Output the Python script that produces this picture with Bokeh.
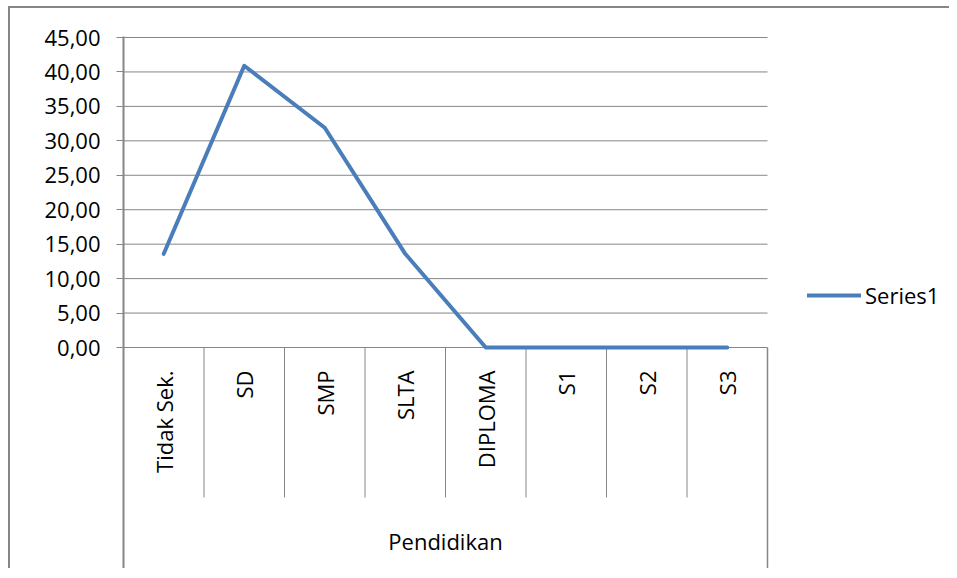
from bokeh.plotting import figure
from bokeh.models import Range1d, FixedTicker, ColumnDataSource
from bokeh.core.properties import value
from bokeh.embed import file_html
from bokeh.resources import INLINE

# ---- data ----
categories = ["Tidak Sek.", "SD", "SMP", "SLTA", "DIPLOMA", "S1", "S2", "S3"]
series1 = [13.6, 40.9, 31.9, 13.6, 0.0, 0.0, 0.0, 0.0]
series_name = "Series1"
group_label = "Pendidikan"
y_ticks = [0, 5, 10, 15, 20, 25, 30, 35, 40, 45]
y_tick_labels = ["0,00", "5,00", "10,00", "15,00", "20,00", "25,00",
                 "30,00", "35,00", "40,00", "45,00"]

# ---- layout / style ----
FONT = "Open Sans"
GREY = "#868686"
BLUE = "#4A7EBB"
W, H = 941, 562
LEFT, TOP = 113, 28
CAT_PX = 644 / 8            # pixels per category
PX = 310 / 45               # pixels per y unit
Y_TOP = 45 + 1 / PX
Y_BOTTOM = -(H - TOP - 1 - 310) / PX

n = len(categories)
xs = [i + 0.5 for i in range(n)]
X_END = (W - LEFT) / CAT_PX

p = figure(width=W, height=H, output_backend="svg", toolbar_location=None,
           x_range=Range1d(0, X_END), y_range=Range1d(Y_BOTTOM, Y_TOP),
           min_border_left=LEFT, min_border_right=0, min_border_top=TOP,
           min_border_bottom=0)
p.styles = {"border-top": "2px solid #868686", "border-left": "2px solid #868686",
            "margin-left": "8px", "margin-top": "6px"}
p.outline_line_color = None
p.background_fill_color = "white"
p.border_fill_color = "white"

# axes
p.xaxis.visible = False
p.yaxis.ticker = FixedTicker(ticks=y_ticks)
p.yaxis.major_label_overrides = {t: l for t, l in zip(y_ticks, y_tick_labels)}
p.yaxis.axis_line_color = GREY
p.yaxis.axis_line_width = 2
p.yaxis.major_tick_line_color = GREY
p.yaxis.major_tick_in = 0
p.yaxis.major_tick_out = 7
p.yaxis.minor_tick_line_color = None
p.yaxis.major_label_text_font = FONT
p.yaxis.major_label_text_font_size = "22px"
p.yaxis.major_label_text_color = "black"
p.yaxis.major_label_standoff = 16
p.grid.visible = False

# horizontal gridlines limited to the category span
grid_src = ColumnDataSource(dict(y=y_ticks, x0=[0] * len(y_ticks), x1=[n] * len(y_ticks)))
p.segment(x0="x0", y0="y", x1="x1", y1="y", source=grid_src, line_color=GREY, line_width=1)

# category separators and right edge
sep_src = ColumnDataSource(dict(x=list(range(1, n)), y0=[0] * (n - 1),
                                y1=[-150 / PX] * (n - 1)))
p.segment(x0="x", y0="y0", x1="x", y1="y1", source=sep_src, line_color=GREY, line_width=1)
p.segment(x0=[n], y0=[0], x1=[n], y1=[Y_BOTTOM], line_color=GREY, line_width=1.5)

# category labels
cat_src = ColumnDataSource(dict(x=xs, y=[-23 / PX] * n, t=categories))
p.text(x="x", y="y", text="t", source=cat_src, angle=1.5707963, text_align="right",
       text_baseline="middle", text_font=value(FONT), text_font_size="22px",
       text_color="black")
p.text(x=[n / 2], y=[-193 / PX], text=[group_label], text_align="center",
       text_baseline="middle", text_font=value(FONT), text_font_size="22px",
       text_color="black")

# series
src = ColumnDataSource(dict(x=xs, y=series1))
r = p.line(x="x", y="y", source=src, line_color=BLUE, line_width=4,
           line_join="round", line_cap="round", legend_label=series_name)

leg = p.legend[0]
leg.location = (684, 260 - (562 - H))
leg.padding = 0
leg.margin = 0
leg.border_line_color = None
leg.background_fill_alpha = 0
leg.glyph_width = 54
leg.label_standoff = 4
leg.label_text_font = FONT
leg.label_text_font_size = "22px"
leg.label_text_color = "black"

open("out.html", "w").write(file_html(p, INLINE))
